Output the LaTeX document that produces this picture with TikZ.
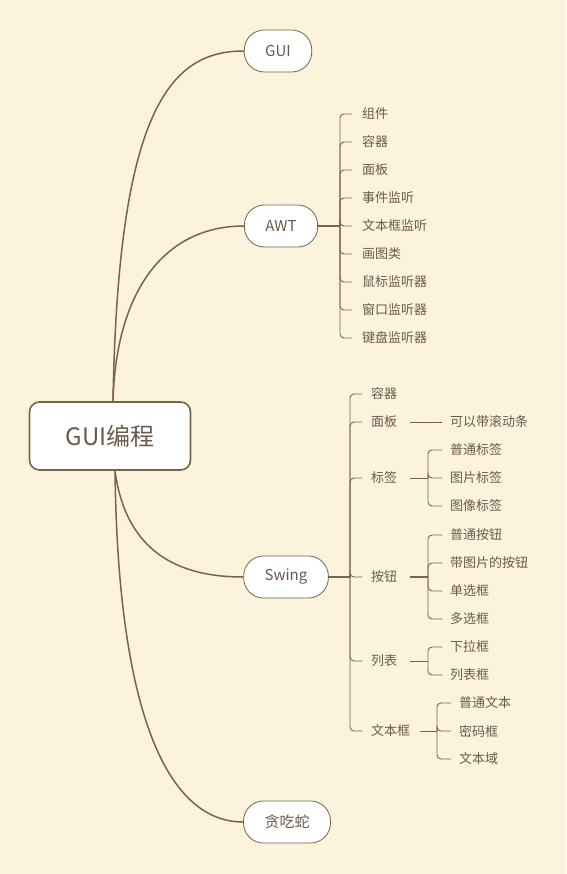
\documentclass[tikz,border=0pt]{standalone}
\usepackage{fontspec}
\setmainfont{Noto Sans CJK SC}
\usepackage{tikz}
\usetikzlibrary{positioning, calc}
\definecolor{bgcream}{HTML}{FBF3DC}
\definecolor{linebrown}{HTML}{7A634C}
\definecolor{textbrown}{HTML}{6B5A4A}
\tikzset{
    root_box/.style={rectangle, draw=linebrown, line width=1.6pt, rounded corners=10pt, fill=white, text=textbrown, minimum width=161pt, minimum height=68pt, font=\fontsize{24}{28}\selectfont},
    topic_box/.style={rectangle, draw=linebrown, line width=0.8pt, rounded corners=20pt, fill=white, text=textbrown, inner xsep=21pt, minimum height=42pt, font=\fontsize{15}{18}\selectfont},
    leaf/.style={anchor=west, inner sep=0pt, text=textbrown, font=\fontsize{13}{15}\selectfont},
    branch/.style={draw=linebrown, line width=1.5pt},
    twig/.style={draw=linebrown, line width=0.9pt, rounded corners=4pt}
}
\begin{document}
\begin{tikzpicture}[x=1pt,y=-1pt]

\fill[bgcream] (0,0) rectangle (566,874);
\useasboundingbox (0,0) rectangle (566,874);

% Root and main topics
\node (root) [root_box] at (110,436) {GUI编程};
\node (gui) [topic_box] at (278,51) {GUI};
\node (awt) [topic_box] at (281,226) {AWT};
\node (swing) [topic_box] at (286,577) {Swing};
\node (snake) [topic_box] at (287,822) {贪吃蛇};

% Curved branches
\draw[branch] ([xshift=3pt]root.north) .. controls (118,110) and (170,51) .. (gui.west);
\draw[branch] ([xshift=3pt]root.north) .. controls (116,290) and (165,226) .. (awt.west);
\draw[branch] ([xshift=5pt]root.south) .. controls (125,545) and (170,577) .. (swing.west);
\draw[branch] ([xshift=5pt]root.south) .. controls (118,720) and (170,822) .. (snake.west);

% AWT children
\coordinate (awtjoin) at (340,226);
\draw[branch] (awt.east) -- (awtjoin);
\foreach \txt [count=\i from 0] in {组件,容器,面板,事件监听,文本框监听,画图类,鼠标监听器,窗口监听器,键盘监听器} {
    \node (awt\i) [leaf] at (362,{114+28*\i}) {\txt};
    \draw[twig] (awtjoin) |- ([xshift=-10pt]awt\i.west);
}

% Swing children
\coordinate (swingjoin) at (350,577);
\draw[branch] (swing.east) -- (swingjoin);
\node (sw1) [leaf] at (371,394) {容器};
\node (sw2) [leaf] at (371,422) {面板};
\node (sw3) [leaf] at (371,478) {标签};
\node (sw4) [leaf] at (371,577) {按钮};
\node (sw5) [leaf] at (371,661) {列表};
\node (sw6) [leaf] at (371,731) {文本框};
\foreach \n in {sw1,sw2,sw3,sw4,sw5,sw6}
    \draw[twig] (swingjoin) |- ([xshift=-9pt]\n.west);

% Panel
\node (scroll) [leaf] at (450,422) {可以带滚动条};
\draw[twig] ([xshift=13pt]sw2.east) -- ([xshift=-8pt]scroll.west);

% Labels
\coordinate (labeljoin) at (428,478);
\draw[twig] ([xshift=13pt]sw3.east) -- (labeljoin);
\foreach \txt [count=\i] in {普通标签,图片标签,图像标签} {
    \node (lab\i) [leaf] at (450,{422+28*\i}) {\txt};
    \draw[twig] (labeljoin) |- ([xshift=-8pt]lab\i.west);
}

% Buttons
\coordinate (btnjoin) at (428,577);
\draw[branch] ([xshift=13pt]sw4.east) -- (btnjoin);
\foreach \txt [count=\i] in {普通按钮,带图片的按钮,单选框,多选框} {
    \node (btn\i) [leaf] at (450,{507+28*\i}) {\txt};
    \draw[twig] (btnjoin) |- ([xshift=-8pt]btn\i.west);
}

% Lists
\coordinate (listjoin) at (428,661);
\draw[twig] ([xshift=13pt]sw5.east) -- (listjoin);
\foreach \txt [count=\i] in {下拉框,列表框} {
    \node (lst\i) [leaf] at (450,{619+28*\i}) {\txt};
    \draw[twig] (listjoin) |- ([xshift=-8pt]lst\i.west);
}

% Text fields
\coordinate (textjoin) at (437,731);
\draw[twig] ([xshift=10pt]sw6.east) -- (textjoin);
\foreach \txt [count=\i] in {普通文本,密码框,文本域} {
    \node (txt\i) [leaf] at (459,{675+28*\i}) {\txt};
    \draw[twig] (textjoin) |- ([xshift=-8pt]txt\i.west);
}

\end{tikzpicture}
\end{document}
